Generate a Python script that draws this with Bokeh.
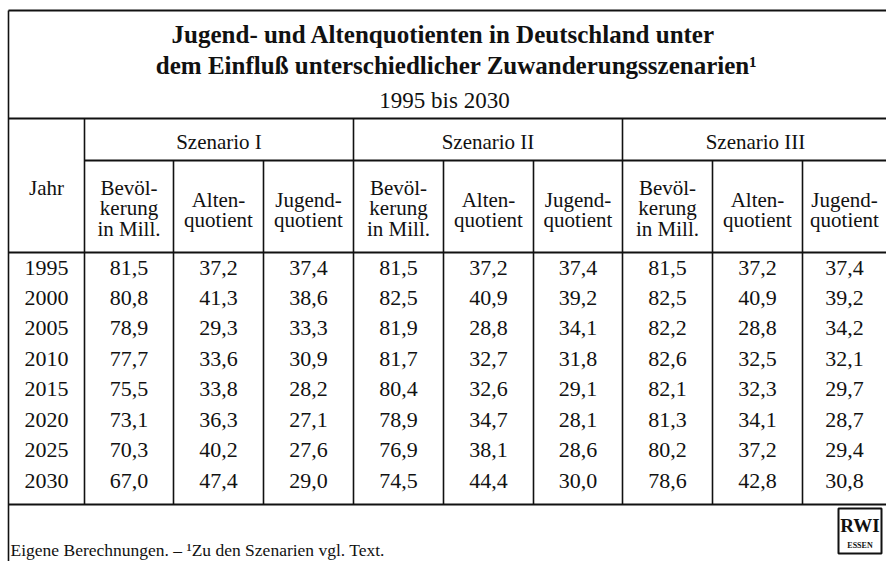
from bokeh.plotting import figure
from bokeh.models import Range1d, ColumnDataSource
from bokeh.core.properties import value
from bokeh.embed import file_html
from bokeh.resources import INLINE

# ---------------- data ----------------
title_lines = ["Jugend- und Altenquotienten in Deutschland unter",
               "dem Einfluß unterschiedlicher Zuwanderungsszenarien¹"]
subtitle = "1995 bis 2030"
year_header = "Jahr"
scenarios = ["Szenario I", "Szenario II", "Szenario III"]
col_headers = [["Bevöl-", "kerung", "in Mill."], ["Alten-", "quotient"], ["Jugend-", "quotient"]]
years = [1995, 2000, 2005, 2010, 2015, 2020, 2025, 2030]

s1_bev = [81.5, 80.8, 78.9, 77.7, 75.5, 73.1, 70.3, 67.0]
s1_alt = [37.2, 41.3, 29.3, 33.6, 33.8, 36.3, 40.2, 47.4]
s1_jug = [37.4, 38.6, 33.3, 30.9, 28.2, 27.1, 27.6, 29.0]

s2_bev = [81.5, 82.5, 81.9, 81.7, 80.4, 78.9, 76.9, 74.5]
s2_alt = [37.2, 40.9, 28.8, 32.7, 32.6, 34.7, 38.1, 44.4]
s2_jug = [37.4, 39.2, 34.1, 31.8, 29.1, 28.1, 28.6, 30.0]

s3_bev = [81.5, 82.5, 82.2, 82.6, 82.1, 81.3, 80.2, 78.6]
s3_alt = [37.2, 40.9, 28.8, 32.5, 32.3, 34.1, 37.2, 42.8]
s3_jug = [37.4, 39.2, 34.2, 32.1, 29.7, 28.7, 29.4, 30.8]

footnote = "Eigene Berechnungen. – ¹Zu den Szenarien vgl. Text."
logo_main = "RWI"
logo_sub = "ESSEN"

# ---------------- layout (pixel grid of the page) ----------------
SERIF = value("Liberation Serif")
INK = "#111111"
LEFT, RIGHT, TOP = 8, 886, 10
Y_HEAD, Y_SUB, Y_BODY, Y_END = 118, 160, 252, 504
col_edges = [8, 84, 173, 263, 353, 443, 533, 622, 712, 802, 886]
col_centers = [(col_edges[i] + col_edges[i + 1]) / 2 for i in range(len(col_edges) - 1)]
col_centers[-1] = 844
row_y0, row_step = 267, 30.45

p = figure(width=886, height=561, x_range=Range1d(0, 886), y_range=Range1d(561, 0),
           output_backend="svg", toolbar_location=None, min_border=0,
           x_axis_type=None, y_axis_type=None)
p.grid.visible = False
p.outline_line_color = None
p.background_fill_color = "white"
p.border_fill_color = "white"

# horizontal rules
hx0 = [LEFT, LEFT, col_edges[1], LEFT, LEFT]
hx1 = [RIGHT, RIGHT, RIGHT, RIGHT, RIGHT]
hy = [TOP, Y_HEAD, Y_SUB, Y_BODY, Y_END]
p.segment(x0=hx0, y0=hy, x1=hx1, y1=hy, line_color=INK, line_width=2)

# vertical rules
vx = [LEFT, col_edges[1], col_edges[4], col_edges[7],
      col_edges[2], col_edges[3], col_edges[5], col_edges[6], col_edges[8], col_edges[9]]
vy0 = [TOP, Y_HEAD, Y_HEAD, Y_HEAD] + [Y_SUB] * 6
vy1 = [561, Y_END, Y_END, Y_END] + [Y_END] * 6
p.segment(x0=vx, y0=vy0, x1=vx, y1=vy1, line_color=INK, line_width=1.6)

# title
p.text(x=[443, 456], y=[34, 65], text=title_lines, text_font=SERIF, text_font_style="bold",
       text_font_size="25px", text_align="center", text_baseline="middle", text_color=INK)
p.text(x=[444], y=[100], text=[subtitle], text_font=SERIF, text_font_size="23px",
       text_align="center", text_baseline="middle", text_color=INK)

# header
sc_x = [(col_edges[1] + col_edges[4]) / 2, (col_edges[4] + col_edges[7]) / 2, 755]
p.text(x=sc_x, y=[141] * 3, text=scenarios, text_font=SERIF, text_font_size="21px",
       text_align="center", text_baseline="middle", text_color=INK)
p.text(x=[col_centers[0]], y=[187], text=[year_header], text_font=SERIF, text_font_size="21px",
       text_align="center", text_baseline="middle", text_color=INK)

hx, hyy, ht = [], [], []
for s in range(3):
    for k, lines in enumerate(col_headers):
        cx = col_centers[1 + s * 3 + k]
        n = len(lines)
        start = 187 if n == 3 else 199
        for li, t in enumerate(lines):
            hx.append(cx)
            hyy.append(start + li * 20.7)
            ht.append(t)
p.text(x=hx, y=hyy, text=ht, text_font=SERIF, text_font_size="21px",
       text_align="center", text_baseline="middle", text_color=INK)

# body
def fmt(v):
    return f"{v:.1f}".replace(".", ",")

series = [s1_bev, s1_alt, s1_jug, s2_bev, s2_alt, s2_jug, s3_bev, s3_alt, s3_jug]
bx, by, bt = [], [], []
for i, yr in enumerate(years):
    ry = row_y0 + i * row_step
    bx.append(col_centers[0]); by.append(ry); bt.append(str(yr))
    for j, ser in enumerate(series):
        bx.append(col_centers[1 + j]); by.append(ry); bt.append(fmt(ser[i]))
src = ColumnDataSource(dict(x=bx, y=by, text=bt))
p.text(x="x", y="y", text="text", source=src, text_font=SERIF, text_font_size="22px",
       text_align="center", text_baseline="middle", text_color=INK)

# footnote
p.text(x=[10], y=[549], text=[footnote], text_font=SERIF, text_font_size="17.5px",
       text_align="left", text_baseline="middle", text_color=INK)

# logo
p.quad(left=[838], right=[881], top=[508], bottom=[553], fill_color=None,
       line_color=INK, line_width=2)
p.text(x=[859.5], y=[525], text=[logo_main], text_font=SERIF, text_font_style="bold",
       text_font_size="19px", text_align="center", text_baseline="middle", text_color=INK)
p.text(x=[859.5], y=[545], text=[logo_sub], text_font=SERIF, text_font_style="bold",
       text_font_size="8px", text_align="center", text_baseline="middle", text_color=INK)

open("out.html", "w").write(file_html(p, INLINE))
